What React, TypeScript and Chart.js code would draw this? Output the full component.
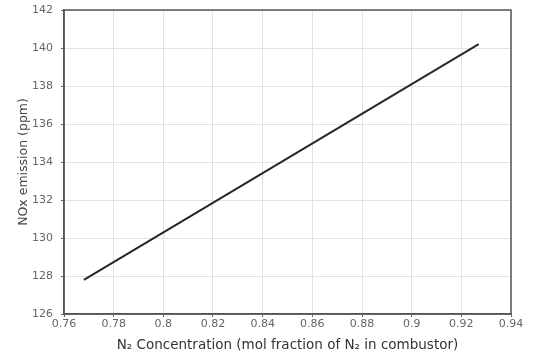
import React, { useEffect, useRef } from "react";
import { Chart, registerables } from "chart.js";

Chart.register(...registerables);

const xValues = [0.768, 0.927];
const noxValues = [127.8, 140.2];
const xTicks = [0.76, 0.78, 0.8, 0.82, 0.84, 0.86, 0.88, 0.9, 0.92, 0.94];
const yTicks = [126, 128, 130, 132, 134, 136, 138, 140, 142];

export default function App() {
  const ref = useRef<HTMLCanvasElement | null>(null);
  useEffect(() => {
    if (!ref.current) return;
    const fam = "'DejaVu Sans', Verdana, sans-serif";
    const font = { family: fam, size: 11 };
    const chart = new Chart(ref.current, {
      type: "scatter",
      data: {
        datasets: [
          {
            data: xValues.map((x, i) => ({ x, y: noxValues[i] })),
            showLine: true,
            borderColor: "#1d2b2b",
            borderWidth: 2,
            pointRadius: 0,
          },
        ],
      },
      options: {
        animation: false,
        responsive: false,
        layout: { padding: { top: 10, right: 22, left: 0, bottom: 0 } },
        plugins: { legend: { display: false }, tooltip: { enabled: false } },
        scales: {
          x: {
            type: "linear",
            min: 0.76,
            max: 0.94,
            afterBuildTicks: (s: any) => {
              s.ticks = xTicks.map((v) => ({ value: v }));
            },
            afterFit: (s: any) => {
              s.height = 44;
              s.paddingLeft = 0;
              s.paddingRight = 0;
            },
            ticks: {
              font,
              color: "#666",
              padding: 1,
              maxRotation: 0,
              autoSkip: false,
              callback: (v: any) => String(Number(v)),
            },
            grid: { color: "#e2e2e2", tickLength: 3, tickColor: "#666" },
            border: { color: "#555", width: 1.5 },
            title: {
              display: true,
              text: "N₂ Concentration (mol fraction of N₂ in combustor)",
              font: { family: fam, size: 13.5 },
              color: "#333",
              padding: { top: 0 },
            },
          },
          y: {
            min: 126,
            max: 142,
            afterBuildTicks: (s: any) => {
              s.ticks = yTicks.map((v) => ({ value: v }));
            },
            afterFit: (s: any) => {
              s.width = 64;
              s.paddingTop = 0;
              s.paddingBottom = 0;
            },
            ticks: { font, color: "#666", padding: 8 },
            grid: { color: "#e2e2e2", tickLength: 3, tickColor: "#666" },
            border: { color: "#555", width: 1.5 },
            title: {
              display: true,
              text: "NOx emission (ppm)",
              font: { family: fam, size: 12.5 },
              color: "#444",
              padding: { top: 16, bottom: 4 },
            },
          },
        },
      },
      plugins: [
        {
          id: "frame",
          afterDraw: (c: any) => {
            const { ctx, chartArea: a } = c;
            ctx.save();
            ctx.strokeStyle = "#555";
            ctx.lineWidth = 1.5;
            ctx.strokeRect(a.left, a.top, a.right - a.left, a.bottom - a.top);
            ctx.restore();
          },
        },
      ],
    } as any);
    return () => chart.destroy();
  }, []);
  return (
    <div style={{ position: "absolute", left: 0, top: 0, width: 533, height: 358, background: "#fff" }}>
      <canvas ref={ref} width={533} height={358} />
    </div>
  );
}
